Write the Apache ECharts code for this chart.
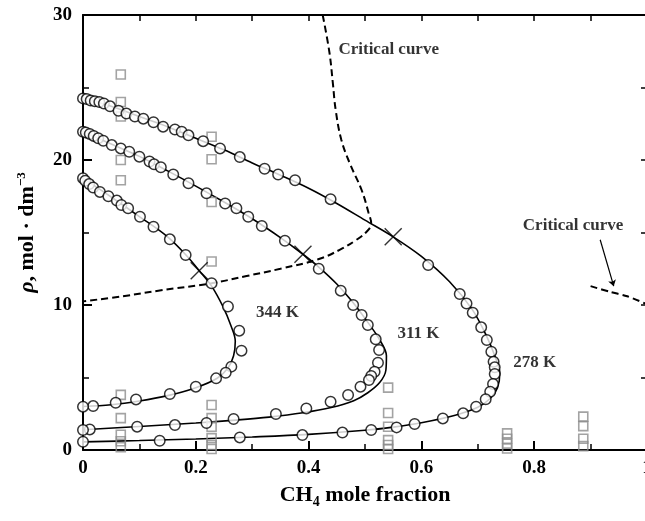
<!DOCTYPE html>
<html>
<head>
<meta charset="utf-8">
<script src="https://cdn.jsdelivr.net/npm/echarts@6/dist/echarts.min.js"></script>
<style>
  html, body { margin: 0; padding: 0; overflow: hidden; background: #fff; }
  #chart { width: 660px; height: 521px; }
</style>
</head>
<body>
<div id="chart"></div>
<script>
// Measured coexistence densities (mole fraction of CH4, density in mol/dm3)
const circles278 = [[0,24.25],[0.0065,24.2],[0.0136,24.1],[0.021,24.05],[0.029,24.0],[0.037,23.9],[0.048,23.7],[0.063,23.4],[0.077,23.2],[0.092,23.0],[0.107,22.85],[0.125,22.6],[0.142,22.3],[0.163,22.1],[0.175,21.95],[0.187,21.7],[0.213,21.3],[0.243,20.8],[0.278,20.2],[0.322,19.4],[0.346,19.0],[0.376,18.6],[0.439,17.3],[0.612,12.76],[0.668,10.76],[0.68,10.1],[0.691,9.47],[0.706,8.46],[0.716,7.59],[0.724,6.78],[0.728,6.09],[0.73,5.7],[0.73,5.24],[0.727,4.55],[0.722,4.02],[0.714,3.5],[0.697,2.99],[0.674,2.53],[0.638,2.18],[0.588,1.79],[0.556,1.56],[0.511,1.38],[0.46,1.2],[0.389,1.03],[0.278,0.87],[0.136,0.64],[0,0.57]];
const circles311 = [[0,21.95],[0.005,21.9],[0.012,21.8],[0.019,21.66],[0.027,21.5],[0.036,21.33],[0.051,21.03],[0.067,20.8],[0.082,20.57],[0.1,20.23],[0.118,19.9],[0.126,19.7],[0.138,19.5],[0.16,19.0],[0.187,18.4],[0.219,17.7],[0.252,17.0],[0.272,16.67],[0.293,16.09],[0.317,15.45],[0.358,14.43],[0.418,12.5],[0.457,10.99],[0.479,10.0],[0.494,9.31],[0.505,8.62],[0.519,7.63],[0.525,6.9],[0.523,6.02],[0.517,5.4],[0.511,5.1],[0.507,4.83],[0.492,4.37],[0.47,3.79],[0.439,3.33],[0.396,2.87],[0.342,2.48],[0.267,2.14],[0.219,1.86],[0.163,1.72],[0.096,1.61],[0.012,1.42],[0,1.38]];
const circles344 = [[0,18.74],[0.004,18.57],[0.011,18.34],[0.018,18.1],[0.03,17.8],[0.045,17.5],[0.06,17.2],[0.068,16.9],[0.08,16.67],[0.101,16.09],[0.125,15.4],[0.154,14.53],[0.182,13.45],[0.228,11.5],[0.257,9.9],[0.277,8.23],[0.281,6.85],[0.263,5.75],[0.253,5.33],[0.236,4.94],[0.2,4.37],[0.154,3.86],[0.094,3.49],[0.058,3.26],[0.018,3.03],[0,2.99]];

// Model isotherms
const curve278 = [[0,24.3],[0.05,23.7],[0.1,23.0],[0.15,22.3],[0.2,21.5],[0.25,20.7],[0.3,19.8],[0.35,18.95],[0.4,18.05],[0.45,17.0],[0.5,15.85],[0.55,14.7],[0.6,13.35],[0.65,11.6],[0.69,9.7],[0.715,7.9],[0.732,6.3],[0.739,5.3],[0.735,4.3],[0.722,3.55],[0.7,2.95],[0.66,2.4],[0.6,1.88],[0.55,1.58],[0.5,1.36],[0.4,1.08],[0.3,0.9],[0.2,0.76],[0.1,0.65],[0,0.56]];
const curve311 = [[0,21.95],[0.05,21.1],[0.1,20.25],[0.15,19.25],[0.2,18.2],[0.25,17.1],[0.3,15.95],[0.35,14.65],[0.39,13.5],[0.42,12.55],[0.45,11.45],[0.478,10.2],[0.505,8.8],[0.526,7.6],[0.538,6.5],[0.537,5.5],[0.526,4.65],[0.505,3.95],[0.48,3.4],[0.44,2.93],[0.39,2.57],[0.33,2.27],[0.27,2.06],[0.2,1.86],[0.1,1.62],[0,1.4]];
const curve344 = [[0,18.75],[0.05,17.45],[0.1,16.1],[0.15,14.7],[0.185,13.35],[0.206,12.37],[0.228,11.3],[0.248,9.9],[0.262,8.6],[0.27,7.5],[0.267,6.5],[0.257,5.65],[0.238,4.95],[0.2,4.3],[0.15,3.75],[0.1,3.38],[0.05,3.12],[0,3.0]];

// Critical curves (dashed) and critical-point markers
const criticalLeft = [[0.425,30],[0.437,27.4],[0.443,25.3],[0.448,23.45],[0.458,21.4],[0.473,19.77],[0.494,17.93],[0.506,16.4],[0.511,15.6],[0.504,15.1],[0.485,14.5],[0.455,13.8],[0.417,13.15],[0.35,12.5],[0.29,12.0],[0.228,11.5],[0.136,11.0],[0.07,10.6],[0,10.25]];
const criticalRight = [[0.9,11.3],[0.935,10.9],[0.965,10.6],[1.0,10.05]];
const criticalPoints = [[0.206,12.37],[0.39,13.5],[0.55,14.7]];

// Hydrate / solid-phase reference points (grey squares)
const squares = [
  [0.067,25.9],[0.067,24.0],[0.067,23.0],[0.067,20.0],[0.067,18.6],[0.067,3.8],[0.067,2.2],[0.067,1.05],[0.067,0.6],[0.067,0.2],
  [0.228,21.6],[0.228,20.05],[0.228,17.1],[0.228,13.0],[0.228,3.1],[0.228,2.2],[0.228,1.6],[0.228,0.82],[0.228,0.34],[0.228,0.07],
  [0.541,4.3],[0.541,2.55],[0.541,1.6],[0.541,0.68],[0.541,0.34],[0.541,0.07],
  [0.752,1.15],[0.752,0.78],[0.752,0.44],[0.752,0.1],
  [0.887,2.3],[0.887,1.65],[0.887,0.78],[0.887,0.27]
];

// Text annotations
const isothermLabels = [
  { name: '344 K', value: [0.345, 9.5] },
  { name: '311 K', value: [0.595, 8.05] },
  { name: '278 K', value: [0.801, 6.05] }
];
const curveLabels = [
  { name: 'Critical curve', value: [0.542, 27.6] },
  { name: 'Critical curve', value: [0.869, 15.5] }
];
const arrowLine = [[0.917, 14.5], [0.941, 11.3]];

const FONT = "'Liberation Serif', 'Times New Roman', serif";
const INK = '#000';

const chart = echarts.init(document.getElementById('chart'), null, { renderer: 'canvas', width: 660, height: 521 });

function tickLabel(v) {
  if (v === 0) return '0';
  if (Math.abs(v - 1) < 1e-9) return '1';
  return v.toFixed(1);
}

const axisLineStyle = { color: INK, width: 2 };
const annotationText = {
  show: true, position: 'inside', formatter: '{b}',
  fontFamily: FONT, fontWeight: 'bold', fontSize: 17, color: INK,
  textBorderWidth: 0, textShadowBlur: 0
};

const option = {
  animation: false,
  backgroundColor: '#fff',
  grid: { left: 83, right: 13, top: 15, bottom: 71, containLabel: false },
  xAxis: [
    {
      type: 'value', min: 0, max: 1, interval: 0.2, position: 'bottom',
      axisLine: { show: true, onZero: false, lineStyle: axisLineStyle },
      axisTick: { show: true, inside: true, length: 9, lineStyle: { color: INK, width: 2 } },
      minorTick: { show: true, splitNumber: 2, length: 6, lineStyle: { color: INK, width: 1.5 } },
      splitLine: { show: false },
      axisLabel: { formatter: tickLabel, fontFamily: FONT, fontWeight: 'bold', fontSize: 19, color: INK, margin: 9 },
      name: '{a|CH}{s|4}{a| mole fraction}',
      nameLocation: 'middle', nameGap: 32,
      nameTextStyle: {
        rich: {
          a: { fontFamily: FONT, fontWeight: 'bold', fontSize: 22, color: INK },
          s: { fontFamily: FONT, fontWeight: 'bold', fontSize: 14, color: INK, verticalAlign: 'top', padding: [13, 0, 0, 0] }
        }
      }
    },
    {
      type: 'value', min: 0, max: 1, interval: 0.1, position: 'top',
      axisLine: { show: true, onZero: false, lineStyle: axisLineStyle },
      axisTick: { show: true, inside: true, length: 6, lineStyle: { color: INK, width: 1.5 } },
      axisLabel: { show: false }, splitLine: { show: false }
    }
  ],
  yAxis: [
    {
      type: 'value', min: 0, max: 30, interval: 10, position: 'left',
      axisLine: { show: true, onZero: false, lineStyle: axisLineStyle },
      axisTick: { show: true, inside: true, length: 9, lineStyle: { color: INK, width: 2 } },
      minorTick: { show: true, splitNumber: 2, length: 6, lineStyle: { color: INK, width: 1.5 } },
      splitLine: { show: false },
      axisLabel: { fontFamily: FONT, fontWeight: 'bold', fontSize: 19, color: INK, margin: 11 },
      name: '{i|ρ}{a|, mol · dm}{s|−3}',
      nameLocation: 'middle', nameGap: 44, nameRotate: 90,
      nameTextStyle: {
        rich: {
          i: { fontFamily: FONT, fontStyle: 'italic', fontWeight: 'bold', fontSize: 22, color: INK },
          a: { fontFamily: FONT, fontWeight: 'bold', fontSize: 22, color: INK },
          s: { fontFamily: FONT, fontWeight: 'bold', fontSize: 13, color: INK, verticalAlign: 'bottom', padding: [0, 0, 11, 0] }
        }
      }
    },
    {
      type: 'value', min: 0, max: 30, interval: 5, position: 'right',
      axisLine: { show: true, onZero: false, lineStyle: axisLineStyle },
      axisTick: { show: true, inside: true, length: 6, lineStyle: { color: INK, width: 1.5 } },
      axisLabel: { show: false }, splitLine: { show: false }
    }
  ],
  series: [
    // dashed critical curves
    { type: 'line', data: criticalLeft, smooth: 0.4, symbol: 'none', z: 2,
      lineStyle: { color: INK, width: 2, type: [7, 4] } },
    { type: 'line', data: criticalRight, smooth: 0.3, symbol: 'none', z: 2,
      lineStyle: { color: INK, width: 2, type: [7, 4] } },
    // model isotherms
    { type: 'line', data: curve278, smooth: 0.35, symbol: 'none', z: 3, lineStyle: { color: INK, width: 1.6 } },
    { type: 'line', data: curve311, smooth: 0.35, symbol: 'none', z: 3, lineStyle: { color: INK, width: 1.6 } },
    { type: 'line', data: curve344, smooth: 0.35, symbol: 'none', z: 3, lineStyle: { color: INK, width: 1.6 } },
    // grey squares
    { type: 'scatter', data: squares, symbol: 'rect', symbolSize: 9, z: 4,
      itemStyle: { color: 'rgba(255,255,255,0)', borderColor: '#8c8c8c', borderWidth: 1.6 } },
    // measured points
    { type: 'scatter', data: circles278, symbol: 'circle', symbolSize: 10.5, z: 5,
      itemStyle: { color: '#fff', borderColor: INK, borderWidth: 1.5 } },
    { type: 'scatter', data: circles311, symbol: 'circle', symbolSize: 10.5, z: 5,
      itemStyle: { color: '#fff', borderColor: INK, borderWidth: 1.5 } },
    { type: 'scatter', data: circles344, symbol: 'circle', symbolSize: 10.5, z: 5,
      itemStyle: { color: '#fff', borderColor: INK, borderWidth: 1.5 } },
    // critical points
    { type: 'scatter', data: criticalPoints, symbol: 'path://M0,0L10,10M10,0L0,10', symbolSize: 17, z: 6,
      itemStyle: { color: 'rgba(0,0,0,0)', borderColor: INK, borderWidth: 1.4 } },
    // isotherm temperature labels
    { type: 'scatter', data: isothermLabels, symbolSize: 0, z: 7,
      itemStyle: { color: 'rgba(0,0,0,0)' }, label: annotationText },
    // critical curve labels
    { type: 'scatter', data: curveLabels, symbolSize: 0, z: 7,
      itemStyle: { color: 'rgba(0,0,0,0)' }, label: annotationText },
    // pointer from the right-hand label to its curve
    { type: 'lines', coordinateSystem: 'cartesian2d', z: 7,
      symbol: ['none', 'arrow'], symbolSize: 6,
      lineStyle: { color: INK, width: 1.2, opacity: 1 },
      data: [{ coords: arrowLine }] }
  ]
};

chart.setOption(option);
</script>
</body>
</html>
